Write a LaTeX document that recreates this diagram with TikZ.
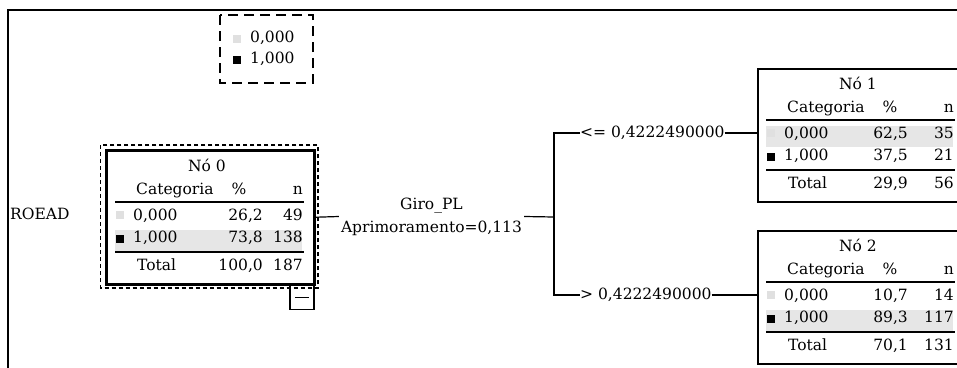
\documentclass[tikz,border=0pt]{standalone}
\usepackage{fontspec}
\setmainfont{DejaVu Serif}
\usetikzlibrary{positioning}
\definecolor{rowgray}{HTML}{E6E6E6}
\definecolor{keygray}{HTML}{E0E0E0}
\tikzset{
  nodebox/.style={draw,line width=1.5pt,anchor=north west,minimum width=207pt,minimum height=133pt,inner sep=0pt},
  cell/.style={inner sep=0pt},
  rule/.style={line width=1.3pt},
  link/.style={line width=1.2pt},
}

\begin{document}
\begin{tikzpicture}[x=1pt,y=-1pt,font=\fontsize{15.5}{18}\selectfont]
\useasboundingbox (0,0) rectangle (957,367);
\clip (0,0) rectangle (957,367);
\draw[line width=2pt] (8,370) |- (960,10);
% legend
\draw[line width=1.2pt,dash pattern=on 10pt off 6pt] (220,15) rectangle (313,83);
\fill[keygray] (233,35) rectangle (241,43);
\fill (233,56) rectangle (241,64);
\node[cell,anchor=mid west] (key0) at (250,40) {0,000};
\node[cell,anchor=mid west] (key1) at (250,61) {1,000};
% tree nodes
\foreach \nm/\L/\T/\idx/\pa/\na/\pb/\nb/\ptot/\ntot/\hl/\pcol in {
  n0/106/150/0/{26,2}/49/{73,8}/138/{100,0}/187/1/157,
  n1/757/68/1/{62,5}/35/{37,5}/21/{29,9}/56/0/151,
  n2/757/230/2/{10,7}/14/{89,3}/117/{70,1}/131/1/151}{
\begin{scope}[shift={(\L,\T)}]
\fill[rowgray] (9,57.5+22*\hl) rectangle (196,79+22*\hl);
\node[nodebox] (\nm) at (0,0) {};
\node[cell] (\nm-title) at (101,15) {Nó \idx};
\node[cell,anchor=mid west] (\nm-cat) at (30,42) {Categoria};
\node[cell,anchor=mid] (\nm-pct) at (133,42) {\%};
\node[cell,anchor=mid east] (\nm-n) at (197,42) {n};
\draw[rule] (9,52) -- (198,52);
\fill[keygray] (10,61) rectangle (18,69);
\fill (10,85) rectangle (18,93);
\node[cell,anchor=mid west] (\nm-c0) at (27,68) {0,000};
\node[cell,anchor=mid west] (\nm-c1) at (27,90) {1,000};
\node[cell,anchor=mid east] (\nm-p0) at (\pcol,68) {\pa};
\node[cell,anchor=mid east] (\nm-p1) at (\pcol,90) {\pb};
\node[cell,anchor=mid east] (\nm-n0) at (197,68) {\na};
\node[cell,anchor=mid east] (\nm-n1) at (197,90) {\nb};
\draw[rule] (9,102) -- (198,102);
\node[cell,anchor=mid west] (\nm-tot) at (31,118) {Total};
\node[cell,anchor=mid east] (\nm-pt) at (\pcol,118) {\ptot};
\node[cell,anchor=mid east] (\nm-nt) at (197,118) {\ntot};
\end{scope}}
% root extras
\draw[line width=3pt] (n0.north west) rectangle (n0.south east);
\draw[line width=1.2pt,dash pattern=on 4pt off 3pt] (100.7,145) rectangle (318,288);
\node[draw,line width=1.2pt,anchor=north east,minimum width=24pt,minimum height=24pt,inner sep=0pt] (fold) at (n0.south east) {};
\draw[line width=1.2pt] ([xshift=-7pt]fold.center) -- ([xshift=7pt]fold.center);
\node[cell,anchor=mid west] (target) at (10,217) {ROEAD};
% split and branches
\node[cell,inner xsep=2pt,align=center,font=\fontsize{15.5}{23}\selectfont] (split) at (431.5,216.5) {Giro\_PL\\Aprimoramento=0,113};
\coordinate (fork) at (554,217);
\node[cell,anchor=mid west] (le) at (580,135) {<= 0,4222490000};
\node[cell,anchor=mid west] (gt) at (580,297) {> 0,4222490000};
\draw[link] (n0.east) -- (split.west);
\draw[link] (split.east) -- (fork);
\draw[link] (le.west) -| (fork) |- (gt.west);
\draw[link] (le.east) -- (le.east -| n1.west);
\draw[link] (gt.east) -- (gt.east -| n2.west);
\end{tikzpicture}
\end{document}
